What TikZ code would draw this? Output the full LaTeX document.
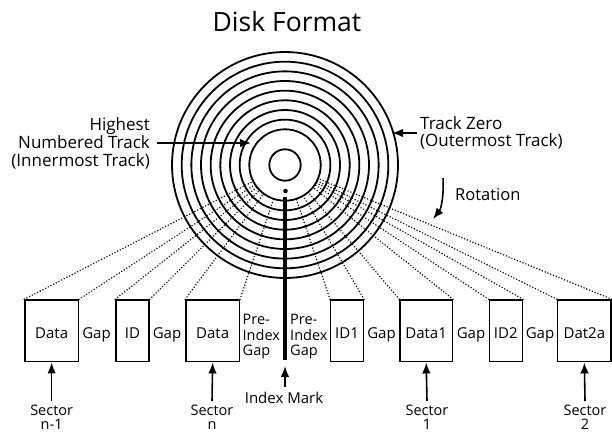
\documentclass[tikz,border=0pt]{standalone}
\usepackage{fontspec}
\setmainfont{Open Sans}
\usetikzlibrary{arrows.meta,calc}
\begin{document}
\begin{tikzpicture}[x=1pt,y=-1pt,
  ring/.style={line width=1.8pt},
  box/.style={draw,line width=1.5pt,minimum height=61.7pt,inner sep=0pt},
  boxtxt/.style={inner sep=0pt,anchor=base,font=\fontsize{15}{16}\selectfont},
  lbl/.style={inner sep=0pt,anchor=base,font=\fontsize{15}{16}\selectfont},
  small/.style={inner sep=0pt,align=left,font=\fontsize{14.5}{15.7}\selectfont},
  sect/.style={inner sep=0pt,align=center,anchor=north,font=\fontsize{14.5}{14}\selectfont},
  side/.style={inner sep=0pt,font=\fontsize{17}{18.3}\selectfont},
  dots/.style={line width=1.6pt,dash pattern=on 0pt off 3pt,line cap=round},
  arr/.style={line width=1.6pt,-{Latex[length=11pt,width=8.5pt]}}
]
\useasboundingbox (0,0) rectangle (612,433);

% title
\node[inner sep=0pt,anchor=base,font=\fontsize{26.5}{28}\selectfont] (title) at (287,32) {Disk Format};

\coordinate (c) at (285,165);

% boxes
\node[box,minimum width=53.3pt] (b1) at (51.65,330.85) {};
\node[box,minimum width=33pt]   (b2) at (132.5,330.85) {};
\node[box,minimum width=53.3pt] (b3) at (212.65,330.85) {};
\node[box,minimum width=32.6pt] (b4) at (347,330.85) {};
\node[box,minimum width=52.3pt] (b5) at (426.15,330.85) {};
\node[box,minimum width=33pt]   (b6) at (505.8,330.85) {};
\node[box,minimum width=53.3pt] (b7) at (584.35,330.85) {};
\node[boxtxt] (t1) at (51.65,338) {Data};
\node[boxtxt] (t2) at (132.5,338) {ID};
\node[boxtxt] (t3) at (212.65,338) {Data};
\node[boxtxt] (t4) at (347,338) {ID1};
\node[boxtxt] (t5) at (426.15,338) {Data1};
\node[boxtxt] (t6) at (505.8,338) {ID2};
\node[boxtxt] (t7) at (584.35,338) {Dat2a};

% dotted radial lines
\foreach \n in {b1,b2,b3,b4,b5,b6,b7}{
  \draw[dots] (\n.north west) -- ($(c)!36pt!(\n.north west)$);
  \draw[dots] (\n.north east) -- ($(c)!36pt!(\n.north east)$);
}

% disk rings
\foreach \i in {0,...,8}{
  \draw[ring] (c) circle[radius={35.7+\i*9.66}];
}
\draw[ring] (c) circle[radius=15.7];
\fill (285.5,191) circle[radius=2.3];

% index line
\coordinate (idxtop) at (285,197);
\coordinate (idxbot) at (285,360);
\draw[line width=4pt] (idxtop) -- (idxbot);

% gap labels
\node[lbl] (g1) at (96.5,338) {Gap};
\node[lbl] (g2) at (167,338) {Gap};
\node[small,anchor=north west] (p1) at (242.5,314) {Pre-\\Index\\Gap};
\node[small,anchor=north west] (p2) at (290,314) {Pre-\\Index\\Gap};
\node[lbl] (g3) at (381.5,338) {Gap};
\node[lbl] (g4) at (471,338) {Gap};
\node[lbl] (g5) at (540,338) {Gap};

% index mark
\node[inner sep=0pt,anchor=base,font=\fontsize{15}{16}\selectfont] (im) at (284,403) {Index Mark};
\coordinate (imS) at (285,387);
\coordinate (imE) at (285,366);
\draw[arr] (imS) -- (imE);

% sectors
\node[sect] (s1) at (51.65,405) {Sector\\n-1};
\node[sect] (s2) at (212,405) {Sector\\n};
\node[sect] (s3) at (427,405) {Sector\\1};
\node[sect] (s4) at (585,405) {Sector\\2};
\draw[arr] (51.65,401) -- (b1.south);
\draw[arr] (212,401) -- (b3.south);
\draw[arr] (427,401) -- (b5.south);
\draw[arr] (585,401) -- (b7.south);

% side labels
\node[side,align=right,anchor=north east] (hi) at (150,117) {Highest\\Numbered Track\\(Innermost Track)};
\coordinate (hiS) at (157,143);
\coordinate (hiE) at (251,143);
\draw[arr] (hiS) -- (hiE);

\node[side,align=left,anchor=north west,font=\fontsize{17}{17}\selectfont] (tz) at (420,116) {Track Zero\\(Outermost Track)};
\coordinate (tzS) at (417,133);
\coordinate (tzE) at (392,133);
\draw[arr] (tzS) -- (tzE);

\node[side,anchor=base west,font=\fontsize{16.5}{17}\selectfont] (rot) at (455,200) {Rotation};
\coordinate (rS) at (443,178);
\coordinate (rE) at (433,219);
\draw[arr] (rS) .. controls (444,196) and (441,209) .. (rE);
\end{tikzpicture}
\end{document}
